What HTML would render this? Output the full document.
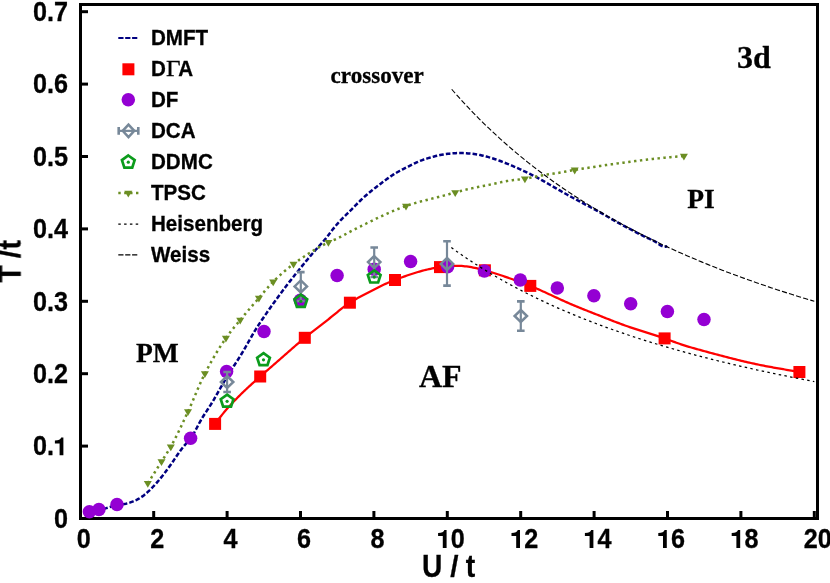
<!DOCTYPE html>
<html><head><meta charset="utf-8"><title>Phase diagram</title>
<style>html,body{margin:0;padding:0;background:#fff;}svg{display:block;}</style>
</head><body>
<svg width="830" height="583" viewBox="0 0 830 583">
<rect width="830" height="583" fill="#fff"/>
<g stroke="#000" stroke-width="3" fill="none" stroke-linecap="butt">
<rect x="80.5" y="4.5" width="737" height="514"/>
</g>
<g stroke="#000" stroke-width="3" fill="none">
<line x1="82" y1="446.1" x2="88" y2="446.1"/>
<line x1="82" y1="373.7" x2="88" y2="373.7"/>
<line x1="82" y1="301.3" x2="88" y2="301.3"/>
<line x1="82" y1="228.9" x2="88" y2="228.9"/>
<line x1="82" y1="156.5" x2="88" y2="156.5"/>
<line x1="82" y1="84.1" x2="88" y2="84.1"/>
<line x1="82" y1="11.7" x2="88" y2="11.7"/>
<line x1="153.7" y1="517" x2="153.7" y2="511"/>
<line x1="227.1" y1="517" x2="227.1" y2="511"/>
<line x1="300.5" y1="517" x2="300.5" y2="511"/>
<line x1="373.9" y1="517" x2="373.9" y2="511"/>
<line x1="447.3" y1="517" x2="447.3" y2="511"/>
<line x1="520.7" y1="517" x2="520.7" y2="511"/>
<line x1="594.1" y1="517" x2="594.1" y2="511"/>
<line x1="667.5" y1="517" x2="667.5" y2="511"/>
<line x1="740.9" y1="517" x2="740.9" y2="511"/>
<line x1="814.3" y1="517" x2="814.3" y2="511"/>
</g>
<path d="M84,514.6 L85.49,514.16 L86.97,513.73 L88.46,513.3 L89.95,512.87 L91.44,512.45 L92.93,512.02 L94.42,511.6 L95.91,511.18 L97.4,510.76 L98.89,510.33 L100.37,509.91 L101.86,509.48 L103.35,509.05 L104.83,508.61 L106.31,508.16 L107.79,507.7 L109.27,507.23 L110.75,506.75 L112.23,506.27 L113.71,505.82 L115.2,505.4 L116.71,505.06 L118.23,504.8 L119.77,504.6 L121.31,504.44 L122.85,504.26 L124.38,504.04 L125.9,503.74 L127.4,503.36 L128.89,502.91 L130.36,502.42 L131.82,501.88 L133.27,501.31 L134.7,500.72 L136.12,500.08 L137.51,499.39 L138.87,498.66 L140.2,497.88 L141.5,497.03 L142.76,496.14 L144,495.2 L145.2,494.23 L146.38,493.22 L147.54,492.18 L148.68,491.12 L149.81,490.05 L150.91,488.96 L152,487.86 L153.07,486.74 L154.13,485.61 L155.18,484.47 L156.21,483.32 L157.24,482.16 L158.25,480.99 L159.24,479.8 L160.23,478.61 L161.21,477.41 L162.18,476.2 L163.14,474.98 L164.09,473.76 L165.03,472.53 L165.96,471.29 L166.88,470.04 L167.8,468.8 L168.71,467.54 L169.61,466.28 L170.5,465.02 L171.39,463.75 L172.27,462.48 L173.15,461.2 L174.02,459.92 L174.89,458.63 L175.75,457.35 L176.62,456.06 L177.48,454.78 L178.36,453.5 L179.25,452.23 L180.16,450.97 L181.08,449.73 L182.02,448.5 L182.99,447.29 L183.98,446.1 L184.99,444.92 L186.01,443.75 L187.03,442.58 L188.04,441.41 L189.03,440.22 L189.99,439.01 L190.91,437.77 L191.79,436.51 L192.64,435.22 L193.45,433.91 L194.23,432.57 L194.99,431.22 L195.74,429.86 L196.47,428.49 L197.19,427.12 L197.91,425.74 L198.63,424.36 L199.36,422.99 L200.11,421.62 L200.86,420.27 L201.64,418.92 L202.44,417.59 L203.25,416.27 L204.08,414.97 L204.92,413.66 L205.76,412.36 L206.61,411.07 L207.47,409.78 L208.32,408.48 L209.16,407.19 L210,405.89 L210.83,404.58 L211.65,403.27 L212.46,401.95 L213.25,400.62 L214.04,399.28 L214.81,397.94 L215.58,396.6 L216.34,395.25 L217.1,393.9 L217.86,392.55 L218.62,391.2 L219.38,389.85 L220.14,388.5 L220.91,387.15 L221.68,385.81 L222.46,384.47 L223.24,383.13 L224.03,381.8 L224.82,380.47 L225.61,379.14 L226.41,377.81 L227.22,376.49 L228.03,375.17 L228.85,373.85 L229.67,372.54 L230.5,371.23 L231.33,369.93 L232.17,368.62 L233.01,367.32 L233.85,366.02 L234.7,364.73 L235.54,363.43 L236.38,362.13 L237.22,360.83 L238.06,359.52 L238.89,358.22 L239.71,356.91 L240.53,355.59 L241.34,354.27 L242.14,352.94 L242.93,351.61 L243.71,350.28 L244.49,348.93 L245.26,347.59 L246.02,346.25 L246.79,344.9 L247.55,343.55 L248.31,342.2 L249.07,340.85 L249.83,339.5 L250.6,338.15 L251.37,336.81 L252.14,335.47 L252.92,334.13 L253.7,332.79 L254.5,331.46 L255.3,330.14 L256.11,328.82 L256.93,327.51 L257.76,326.2 L258.6,324.9 L259.45,323.6 L260.3,322.31 L261.16,321.02 L262.02,319.74 L262.89,318.45 L263.77,317.17 L264.64,315.9 L265.52,314.62 L266.41,313.35 L267.29,312.08 L268.18,310.81 L269.07,309.54 L269.96,308.27 L270.85,307.01 L271.75,305.74 L272.64,304.48 L273.54,303.22 L274.44,301.96 L275.34,300.7 L276.25,299.44 L277.16,298.19 L278.07,296.94 L278.98,295.69 L279.9,294.44 L280.82,293.2 L281.75,291.95 L282.68,290.72 L283.61,289.48 L284.55,288.24 L285.48,287.01 L286.43,285.78 L287.37,284.56 L288.32,283.33 L289.27,282.11 L290.22,280.89 L291.17,279.67 L292.13,278.45 L293.09,277.23 L294.05,276.02 L295.01,274.8 L295.98,273.59 L296.95,272.38 L297.91,271.17 L298.89,269.97 L299.86,268.76 L300.83,267.56 L301.81,266.36 L302.79,265.16 L303.77,263.96 L304.75,262.76 L305.74,261.57 L306.73,260.38 L307.72,259.18 L308.71,258 L309.7,256.81 L310.7,255.63 L311.71,254.45 L312.72,253.27 L313.73,252.1 L314.75,250.93 L315.77,249.77 L316.8,248.61 L317.84,247.46 L318.88,246.31 L319.92,245.17 L320.96,244.02 L322,242.87 L323.03,241.72 L324.05,240.55 L325.06,239.37 L326.04,238.18 L327.01,236.97 L327.96,235.75 L328.9,234.52 L329.84,233.29 L330.77,232.05 L331.71,230.82 L332.65,229.59 L333.61,228.37 L334.58,227.16 L335.57,225.97 L336.57,224.79 L337.6,223.63 L338.63,222.48 L339.68,221.34 L340.75,220.21 L341.82,219.1 L342.91,217.99 L344,216.89 L345.1,215.8 L346.21,214.72 L347.31,213.63 L348.42,212.55 L349.52,211.46 L350.62,210.38 L351.72,209.28 L352.81,208.18 L353.89,207.07 L354.97,205.96 L356.05,204.85 L357.14,203.75 L358.23,202.65 L359.33,201.56 L360.44,200.48 L361.56,199.41 L362.7,198.36 L363.84,197.32 L365,196.29 L366.17,195.27 L367.34,194.26 L368.53,193.26 L369.72,192.27 L370.92,191.29 L372.12,190.31 L373.33,189.34 L374.54,188.38 L375.76,187.42 L376.98,186.47 L378.2,185.52 L379.43,184.58 L380.66,183.64 L381.89,182.7 L383.13,181.77 L384.37,180.85 L385.62,179.93 L386.88,179.02 L388.14,178.12 L389.4,177.23 L390.68,176.35 L391.97,175.49 L393.27,174.65 L394.58,173.83 L395.91,173.03 L397.25,172.25 L398.6,171.49 L399.96,170.75 L401.33,170.02 L402.7,169.3 L404.08,168.6 L405.46,167.9 L406.84,167.2 L408.23,166.52 L409.62,165.83 L411.01,165.14 L412.4,164.46 L413.79,163.77 L415.18,163.1 L416.58,162.44 L417.99,161.8 L419.41,161.18 L420.85,160.6 L422.3,160.06 L423.76,159.54 L425.23,159.05 L426.7,158.58 L428.19,158.12 L429.67,157.68 L431.16,157.26 L432.66,156.85 L434.16,156.45 L435.66,156.08 L437.16,155.72 L438.67,155.38 L440.19,155.06 L441.71,154.77 L443.24,154.5 L444.77,154.25 L446.3,154.03 L447.84,153.82 L449.38,153.65 L450.92,153.49 L452.47,153.36 L454.02,153.26 L455.57,153.17 L457.12,153.12 L458.67,153.08 L460.22,153.07 L461.77,153.08 L463.33,153.12 L464.88,153.18 L466.43,153.27 L467.98,153.38 L469.52,153.51 L471.07,153.66 L472.61,153.84 L474.15,154.05 L475.68,154.27 L477.21,154.52 L478.74,154.8 L480.26,155.09 L481.78,155.41 L483.29,155.75 L484.79,156.12 L486.29,156.5 L487.78,156.91 L489.27,157.33 L490.76,157.77 L492.24,158.23 L493.72,158.7 L495.19,159.19 L496.66,159.69 L498.12,160.21 L499.58,160.74 L501.03,161.28 L502.49,161.84 L503.94,162.4 L505.38,162.97 L506.82,163.55 L508.26,164.14 L509.69,164.73 L511.13,165.33 L512.56,165.93 L513.98,166.55 L515.4,167.17 L516.82,167.79 L518.24,168.42 L519.65,169.06 L521.06,169.7 L522.47,170.35 L523.87,171.01 L525.27,171.67 L526.67,172.34 L528.06,173.02 L529.45,173.7 L530.83,174.39 L532.21,175.09 L533.59,175.79 L534.97,176.5 L536.34,177.22 L537.7,177.95 L539.07,178.68 L540.43,179.42 L541.78,180.17 L543.14,180.92 L544.49,181.67 L545.84,182.43 L547.18,183.2 L548.53,183.97 L549.87,184.74 L551.21,185.51 L552.56,186.28 L553.9,187.06 L555.24,187.83 L556.58,188.61 L557.92,189.39 L559.26,190.16 L560.6,190.93 L561.95,191.71 L563.29,192.47 L564.64,193.24 L565.99,194 L567.34,194.76 L568.69,195.51 L570.05,196.26 L571.41,197 L572.77,197.74 L574.13,198.48 L575.49,199.22 L576.86,199.95 L578.22,200.68 L579.59,201.41 L580.95,202.14 L582.32,202.87 L583.69,203.6 L585.06,204.32 L586.42,205.05 L587.79,205.78 L589.16,206.51 L590.52,207.24 L591.89,207.97 L593.25,208.71 L594.61,209.44 L595.97,210.18 L597.33,210.93 L598.69,211.67 L600.04,212.42 L601.39,213.18 L602.74,213.94 L604.09,214.7 L605.44,215.46 L606.78,216.23 L608.13,216.99 L609.47,217.76 L610.82,218.53 L612.16,219.3 L613.51,220.06 L614.86,220.83 L616.21,221.59 L617.56,222.35 L618.91,223.1 L620.26,223.85 L621.62,224.6 L622.98,225.34 L624.35,226.08 L625.71,226.81 L627.08,227.54 L628.45,228.26 L629.82,228.98 L631.19,229.69 L632.56,230.4 L633.93,231.12 L635.31,231.83 L636.68,232.55 L638.06,233.27 L639.44,234 L640.82,234.72 L642.2,235.44 L643.58,236.15 L644.97,236.84 L646.35,237.5 L647.74,238.12 L649.13,238.72 L650.52,239.31 L651.91,239.92 L653.3,240.58 L654.7,241.32 L656.09,242.15 L657.49,243.11 L658.88,244.13 L660.28,245.11 L661.68,245.96 L663.08,246.57 L664.49,246.85 L665.89,246.69 L667.3,246" fill="none" stroke="#000080" stroke-width="2.5" stroke-dasharray="4.6 2.1"/>
<path d="M215.1,423.9 L216.08,422.54 L217.07,421.2 L218.07,419.87 L219.08,418.55 L220.1,417.23 L221.13,415.93 L222.17,414.64 L223.22,413.36 L224.28,412.09 L225.35,410.83 L226.42,409.58 L227.51,408.34 L228.6,407.11 L229.7,405.89 L230.81,404.67 L231.93,403.46 L233.05,402.26 L234.19,401.07 L235.32,399.89 L236.47,398.71 L237.62,397.54 L238.78,396.37 L239.94,395.22 L241.11,394.07 L242.29,392.92 L243.47,391.78 L244.66,390.65 L245.85,389.52 L247.04,388.39 L248.24,387.28 L249.45,386.16 L250.66,385.05 L251.87,383.94 L253.08,382.84 L254.3,381.74 L255.53,380.65 L256.75,379.55 L257.98,378.46 L259.21,377.37 L260.44,376.29 L261.68,375.2 L262.91,374.12 L264.15,373.04 L265.39,371.96 L266.63,370.88 L267.87,369.81 L269.11,368.73 L270.35,367.65 L271.6,366.58 L272.84,365.5 L274.08,364.42 L275.32,363.34 L276.56,362.27 L277.8,361.19 L279.04,360.1 L280.28,359.02 L281.51,357.93 L282.75,356.85 L283.98,355.76 L285.21,354.67 L286.45,353.58 L287.68,352.49 L288.91,351.41 L290.15,350.32 L291.38,349.23 L292.62,348.15 L293.86,347.07 L295.1,345.99 L296.34,344.92 L297.59,343.84 L298.84,342.78 L300.09,341.71 L301.35,340.66 L302.61,339.61 L303.87,338.56 L305.14,337.52 L306.42,336.49 L307.7,335.46 L308.99,334.44 L310.27,333.42 L311.57,332.4 L312.86,331.39 L314.16,330.38 L315.46,329.38 L316.75,328.37 L318.06,327.37 L319.36,326.36 L320.66,325.36 L321.96,324.35 L323.26,323.34 L324.55,322.33 L325.85,321.32 L327.14,320.3 L328.43,319.28 L329.72,318.25 L331,317.21 L332.28,316.18 L333.56,315.13 L334.83,314.09 L336.11,313.05 L337.39,312.01 L338.67,310.98 L339.96,309.95 L341.25,308.93 L342.55,307.93 L343.86,306.94 L345.18,305.96 L346.51,305 L347.86,304.06 L349.22,303.15 L350.59,302.26 L351.98,301.39 L353.39,300.54 L354.8,299.71 L356.23,298.9 L357.67,298.11 L359.12,297.32 L360.57,296.55 L362.03,295.79 L363.49,295.03 L364.96,294.27 L366.42,293.52 L367.89,292.76 L369.35,292 L370.81,291.24 L372.27,290.48 L373.73,289.71 L375.19,288.96 L376.65,288.2 L378.11,287.46 L379.58,286.72 L381.06,285.99 L382.53,285.28 L384.02,284.58 L385.51,283.89 L387.01,283.23 L388.52,282.58 L390.04,281.95 L391.56,281.34 L393.09,280.74 L394.63,280.14 L396.16,279.55 L397.7,278.97 L399.24,278.38 L400.78,277.81 L402.32,277.23 L403.87,276.67 L405.42,276.11 L406.97,275.56 L408.52,275.02 L410.07,274.49 L411.63,273.97 L413.2,273.46 L414.76,272.96 L416.33,272.47 L417.91,272 L419.48,271.55 L421.07,271.1 L422.65,270.68 L424.25,270.27 L425.84,269.87 L427.44,269.49 L429.04,269.13 L430.65,268.78 L432.26,268.45 L433.88,268.14 L435.5,267.84 L437.12,267.56 L438.74,267.29 L440.37,267.04 L442,266.81 L443.64,266.6 L445.28,266.41 L446.91,266.24 L448.55,266.09 L450.2,265.97 L451.84,265.88 L453.48,265.82 L455.12,265.79 L456.77,265.79 L458.41,265.82 L460.05,265.89 L461.69,265.99 L463.32,266.13 L464.96,266.29 L466.59,266.48 L468.23,266.7 L469.85,266.95 L471.48,267.22 L473.1,267.52 L474.72,267.84 L476.34,268.18 L477.95,268.54 L479.56,268.92 L481.16,269.31 L482.76,269.73 L484.36,270.15 L485.95,270.59 L487.53,271.04 L489.11,271.5 L490.69,271.98 L492.26,272.46 L493.83,272.95 L495.39,273.45 L496.96,273.96 L498.52,274.47 L500.07,274.99 L501.63,275.52 L503.19,276.05 L504.74,276.58 L506.29,277.11 L507.85,277.65 L509.4,278.19 L510.95,278.73 L512.5,279.27 L514.06,279.82 L515.61,280.36 L517.15,280.92 L518.7,281.47 L520.25,282.04 L521.79,282.61 L523.33,283.18 L524.87,283.76 L526.4,284.35 L527.93,284.95 L529.46,285.56 L530.98,286.18 L532.5,286.8 L534.01,287.44 L535.53,288.08 L537.03,288.74 L538.54,289.39 L540.04,290.06 L541.54,290.73 L543.04,291.41 L544.54,292.09 L546.03,292.77 L547.53,293.46 L549.02,294.15 L550.51,294.84 L552,295.53 L553.49,296.23 L554.98,296.92 L556.48,297.61 L557.97,298.3 L559.46,298.99 L560.95,299.68 L562.45,300.36 L563.95,301.04 L565.44,301.72 L566.95,302.39 L568.45,303.05 L569.96,303.71 L571.47,304.36 L572.98,305 L574.49,305.64 L576.01,306.27 L577.53,306.89 L579.05,307.51 L580.58,308.13 L582.1,308.74 L583.63,309.35 L585.16,309.96 L586.68,310.56 L588.21,311.17 L589.74,311.77 L591.27,312.37 L592.8,312.97 L594.33,313.58 L595.86,314.18 L597.39,314.79 L598.92,315.4 L600.45,316 L601.97,316.61 L603.5,317.22 L605.03,317.83 L606.56,318.43 L608.09,319.04 L609.62,319.64 L611.15,320.24 L612.68,320.84 L614.21,321.43 L615.75,322.02 L617.28,322.61 L618.82,323.18 L620.36,323.76 L621.9,324.33 L623.45,324.89 L624.99,325.44 L626.54,325.99 L628.09,326.53 L629.65,327.06 L631.21,327.59 L632.77,328.11 L634.33,328.62 L635.89,329.13 L637.46,329.63 L639.02,330.13 L640.59,330.62 L642.16,331.12 L643.73,331.61 L645.3,332.1 L646.86,332.59 L648.43,333.08 L650,333.58 L651.57,334.07 L653.14,334.57 L654.7,335.07 L656.26,335.58 L657.83,336.09 L659.39,336.61 L660.94,337.13 L662.5,337.67 L664.05,338.21 L665.6,338.76 L667.15,339.31 L668.69,339.88 L670.24,340.44 L671.78,341.01 L673.32,341.58 L674.87,342.14 L676.41,342.7 L677.96,343.25 L679.51,343.79 L681.07,344.32 L682.63,344.84 L684.19,345.35 L685.76,345.85 L687.33,346.33 L688.9,346.81 L690.48,347.28 L692.05,347.74 L693.63,348.19 L695.22,348.64 L696.8,349.09 L698.38,349.53 L699.97,349.96 L701.55,350.4 L703.14,350.83 L704.73,351.26 L706.31,351.69 L707.9,352.12 L709.49,352.55 L711.07,352.98 L712.66,353.4 L714.25,353.83 L715.84,354.25 L717.43,354.67 L719.02,355.09 L720.6,355.51 L722.19,355.93 L723.78,356.35 L725.37,356.76 L726.96,357.18 L728.56,357.59 L730.15,358 L731.74,358.41 L733.33,358.81 L734.93,359.21 L736.52,359.61 L738.12,360.01 L739.71,360.4 L741.31,360.79 L742.91,361.17 L744.51,361.55 L746.11,361.92 L747.71,362.29 L749.31,362.66 L750.92,363.02 L752.52,363.37 L754.13,363.72 L755.74,364.07 L757.35,364.41 L758.95,364.74 L760.56,365.07 L762.18,365.4 L763.79,365.71 L765.4,366.03 L767.02,366.33 L768.63,366.64 L770.25,366.94 L771.87,367.23 L773.48,367.52 L775.1,367.81 L776.72,368.1 L778.34,368.38 L779.96,368.66 L781.58,368.94 L783.2,369.22 L784.82,369.49 L786.44,369.77 L788.06,370.05 L789.68,370.32 L791.3,370.6 L792.92,370.88 L794.54,371.15 L796.16,371.43 L797.78,371.72 L799.4,372" fill="none" stroke="#ff0000" stroke-width="2.25"/>
<rect x="209.1" y="417.9" width="12" height="12" fill="#ff0000"/>
<rect x="254.2" y="370.5" width="12" height="12" fill="#ff0000"/>
<rect x="298.8" y="331.8" width="12" height="12" fill="#ff0000"/>
<rect x="343.9" y="296.7" width="12" height="12" fill="#ff0000"/>
<rect x="389" y="274" width="12" height="12" fill="#ff0000"/>
<rect x="434" y="261.1" width="12" height="12" fill="#ff0000"/>
<rect x="478.9" y="264.3" width="12" height="12" fill="#ff0000"/>
<rect x="524.3" y="279.9" width="12" height="12" fill="#ff0000"/>
<rect x="658.6" y="332.4" width="12" height="12" fill="#ff0000"/>
<rect x="793.4" y="366" width="12" height="12" fill="#ff0000"/>
<circle cx="89.4" cy="511.7" r="6.75" fill="#9400d3"/>
<circle cx="98.9" cy="509.6" r="6.75" fill="#9400d3"/>
<circle cx="117" cy="504.5" r="6.75" fill="#9400d3"/>
<circle cx="190.6" cy="438.3" r="6.75" fill="#9400d3"/>
<circle cx="226.6" cy="371.6" r="6.75" fill="#9400d3"/>
<circle cx="264" cy="331.5" r="6.75" fill="#9400d3"/>
<circle cx="300.3" cy="300.2" r="6.75" fill="#9400d3"/>
<circle cx="337.1" cy="275.6" r="6.75" fill="#9400d3"/>
<circle cx="374.2" cy="269.3" r="6.75" fill="#9400d3"/>
<circle cx="410.6" cy="261.6" r="6.75" fill="#9400d3"/>
<circle cx="447.6" cy="266.8" r="6.75" fill="#9400d3"/>
<circle cx="484.4" cy="271" r="6.75" fill="#9400d3"/>
<circle cx="520.3" cy="280.1" r="6.75" fill="#9400d3"/>
<circle cx="557.3" cy="288.1" r="6.75" fill="#9400d3"/>
<circle cx="593.9" cy="295.8" r="6.75" fill="#9400d3"/>
<circle cx="630.7" cy="303.8" r="6.75" fill="#9400d3"/>
<circle cx="667.4" cy="311.4" r="6.75" fill="#9400d3"/>
<circle cx="704" cy="319.4" r="6.75" fill="#9400d3"/>
<g stroke="#778899" fill="none">
<path stroke-width="2.2" d="M227.1,372 V392"/>
<path stroke-width="2.6" d="M223.3,372 H230.9 M223.3,392 H230.9"/>
<path stroke-width="2.5" d="M227.1,376 L233.3,382 L227.1,388 L220.9,382 Z"/>
<path stroke-width="2.2" d="M300.8,272.1 V301"/>
<path stroke-width="2.6" d="M297,272.1 H304.6 M297,301 H304.6"/>
<path stroke-width="2.5" d="M300.8,280.4 L307,286.4 L300.8,292.4 L294.6,286.4 Z"/>
<path stroke-width="2.2" d="M374.2,247.5 V277"/>
<path stroke-width="2.6" d="M370.4,247.5 H378 M370.4,277 H378"/>
<path stroke-width="2.5" d="M374.2,256.1 L380.4,262.1 L374.2,268.1 L368,262.1 Z"/>
<path stroke-width="2.2" d="M447,241.3 V285.6"/>
<path stroke-width="2.6" d="M443.2,241.3 H450.8 M443.2,285.6 H450.8"/>
<path stroke-width="2.5" d="M447,257.9 L453.2,263.9 L447,269.9 L440.8,263.9 Z"/>
<path stroke-width="2.2" d="M520.8,301.4 V330.8"/>
<path stroke-width="2.6" d="M517,301.4 H524.6 M517,330.8 H524.6"/>
<path stroke-width="2.5" d="M520.8,310 L527,316 L520.8,322 L514.6,316 Z"/>
</g>
<path d="M227.1,394.6 L233.47,399.23 L231.04,406.72 L223.16,406.72 L220.73,399.23 Z" fill="none" stroke="#0c9c1c" stroke-width="2.7"/>
<circle cx="227.1" cy="401.3" r="1.6" fill="#0c9c1c"/>
<path d="M263.5,353.1 L269.87,357.73 L267.44,365.22 L259.56,365.22 L257.13,357.73 Z" fill="none" stroke="#0c9c1c" stroke-width="2.7"/>
<circle cx="263.5" cy="359.8" r="1.6" fill="#0c9c1c"/>
<path d="M300.8,294.7 L307.17,299.33 L304.74,306.82 L296.86,306.82 L294.43,299.33 Z" fill="none" stroke="#0c9c1c" stroke-width="2.7"/>
<circle cx="300.8" cy="301.4" r="1.6" fill="#0c9c1c"/>
<path d="M374.2,270.4 L380.57,275.03 L378.14,282.52 L370.26,282.52 L367.83,275.03 Z" fill="none" stroke="#0c9c1c" stroke-width="2.7"/>
<circle cx="374.2" cy="277.1" r="1.6" fill="#0c9c1c"/>
<path d="M147.8,483.3 L148.53,482.16 L149.25,481.02 L149.98,479.87 L150.7,478.73 L151.42,477.59 L152.15,476.44 L152.87,475.3 L153.6,474.15 L154.32,473.01 L155.04,471.87 L155.76,470.72 L156.48,469.58 L157.21,468.43 L157.93,467.29 L158.65,466.14 L159.37,464.99 L160.09,463.85 L160.81,462.7 L161.53,461.56 L162.25,460.41 L162.98,459.27 L163.71,458.13 L164.45,456.99 L165.19,455.85 L165.92,454.71 L166.65,453.57 L167.37,452.43 L168.09,451.28 L168.8,450.13 L169.49,448.97 L170.17,447.8 L170.84,446.63 L171.49,445.45 L172.14,444.27 L172.78,443.08 L173.42,441.89 L174.05,440.69 L174.67,439.49 L175.29,438.29 L175.9,437.08 L176.51,435.88 L177.11,434.66 L177.71,433.45 L178.31,432.23 L178.9,431.01 L179.49,429.79 L180.07,428.57 L180.66,427.35 L181.24,426.12 L181.81,424.89 L182.39,423.67 L182.96,422.44 L183.54,421.21 L184.11,419.98 L184.68,418.75 L185.25,417.52 L185.82,416.29 L186.39,415.06 L186.96,413.84 L187.53,412.61 L188.1,411.38 L188.67,410.15 L189.23,408.92 L189.79,407.69 L190.34,406.45 L190.88,405.21 L191.42,403.97 L191.96,402.72 L192.5,401.48 L193.03,400.23 L193.56,398.98 L194.09,397.73 L194.62,396.48 L195.14,395.23 L195.67,393.98 L196.2,392.73 L196.73,391.49 L197.26,390.24 L197.79,388.99 L198.33,387.75 L198.87,386.51 L199.41,385.27 L199.96,384.03 L200.51,382.8 L201.07,381.56 L201.63,380.34 L202.2,379.11 L202.78,377.89 L203.37,376.68 L203.96,375.47 L204.56,374.26 L205.17,373.06 L205.79,371.86 L206.41,370.67 L207.04,369.47 L207.67,368.27 L208.31,367.08 L208.95,365.89 L209.6,364.7 L210.25,363.51 L210.91,362.32 L211.57,361.14 L212.24,359.95 L212.92,358.77 L213.59,357.6 L214.28,356.42 L214.97,355.25 L215.66,354.08 L216.36,352.92 L217.06,351.75 L217.77,350.59 L218.48,349.44 L219.2,348.29 L219.92,347.14 L220.65,346 L221.38,344.86 L222.12,343.73 L222.86,342.6 L223.61,341.47 L224.36,340.36 L225.12,339.24 L225.88,338.13 L226.65,337.03 L227.43,335.94 L228.23,334.85 L229.04,333.77 L229.86,332.7 L230.7,331.63 L231.54,330.56 L232.38,329.51 L233.24,328.45 L234.09,327.4 L234.96,326.35 L235.82,325.3 L236.69,324.26 L237.55,323.21 L238.42,322.17 L239.28,321.12 L240.14,320.08 L240.99,319.03 L241.86,317.99 L242.72,316.95 L243.58,315.91 L244.45,314.87 L245.32,313.83 L246.2,312.8 L247.07,311.76 L247.95,310.73 L248.82,309.7 L249.7,308.67 L250.58,307.64 L251.46,306.62 L252.35,305.59 L253.23,304.56 L254.11,303.54 L255,302.51 L255.88,301.49 L256.77,300.47 L257.65,299.44 L258.54,298.42 L259.42,297.39 L260.3,296.36 L261.18,295.33 L262.05,294.29 L262.93,293.25 L263.8,292.21 L264.67,291.17 L265.55,290.13 L266.43,289.1 L267.31,288.08 L268.21,287.06 L269.1,286.04 L270.01,285.04 L270.93,284.05 L271.85,283.07 L272.79,282.11 L273.74,281.16 L274.7,280.21 L275.67,279.27 L276.65,278.34 L277.63,277.41 L278.63,276.48 L279.63,275.56 L280.63,274.65 L281.65,273.74 L282.67,272.84 L283.7,271.95 L284.73,271.07 L285.77,270.19 L286.82,269.33 L287.87,268.47 L288.92,267.62 L289.99,266.78 L291.05,265.95 L292.12,265.13 L293.2,264.33 L294.27,263.53 L295.36,262.73 L296.45,261.94 L297.54,261.15 L298.64,260.36 L299.75,259.58 L300.86,258.8 L301.97,258.03 L303.09,257.26 L304.21,256.49 L305.34,255.74 L306.48,254.98 L307.62,254.23 L308.76,253.49 L309.9,252.76 L311.06,252.03 L312.21,251.31 L313.37,250.59 L314.53,249.89 L315.7,249.19 L316.87,248.5 L318.05,247.82 L319.23,247.14 L320.41,246.48 L321.59,245.83 L322.78,245.18 L323.98,244.55 L325.17,243.92 L326.37,243.31 L327.57,242.71 L328.78,242.12 L330.01,241.56 L331.25,241.04 L332.51,240.53 L333.77,240.03 L335.03,239.52 L336.27,238.98 L337.5,238.42 L338.71,237.83 L339.92,237.22 L341.12,236.6 L342.32,235.96 L343.51,235.32 L344.7,234.67 L345.89,234.02 L347.08,233.37 L348.27,232.72 L349.46,232.07 L350.65,231.44 L351.86,230.82 L353.06,230.2 L354.26,229.58 L355.47,228.97 L356.67,228.35 L357.88,227.74 L359.09,227.13 L360.3,226.52 L361.51,225.91 L362.72,225.31 L363.93,224.7 L365.14,224.1 L366.36,223.5 L367.57,222.91 L368.78,222.31 L370,221.71 L371.22,221.12 L372.43,220.52 L373.65,219.92 L374.86,219.33 L376.08,218.73 L377.3,218.14 L378.52,217.56 L379.74,216.98 L380.97,216.4 L382.19,215.83 L383.42,215.26 L384.65,214.71 L385.89,214.16 L387.13,213.62 L388.37,213.07 L389.61,212.53 L390.85,211.99 L392.1,211.46 L393.35,210.93 L394.59,210.4 L395.85,209.88 L397.1,209.37 L398.36,208.86 L399.62,208.36 L400.88,207.87 L402.14,207.39 L403.41,206.92 L404.68,206.46 L405.95,206.02 L407.23,205.58 L408.51,205.15 L409.8,204.74 L411.09,204.33 L412.39,203.94 L413.69,203.54 L414.98,203.16 L416.29,202.78 L417.59,202.41 L418.89,202.04 L420.19,201.67 L421.5,201.31 L422.8,200.96 L424.11,200.62 L425.42,200.28 L426.73,199.94 L428.04,199.61 L429.36,199.28 L430.67,198.95 L431.99,198.63 L433.3,198.3 L434.61,197.98 L435.93,197.65 L437.24,197.31 L438.55,196.98 L439.86,196.64 L441.17,196.29 L442.48,195.94 L443.78,195.59 L445.09,195.24 L446.4,194.89 L447.7,194.53 L449.01,194.18 L450.31,193.82 L451.62,193.47 L452.93,193.11 L454.23,192.76 L455.54,192.41 L456.85,192.05 L458.15,191.69 L459.46,191.33 L460.76,190.98 L462.07,190.62 L463.38,190.28 L464.69,189.95 L466,189.63 L467.32,189.32 L468.64,189.02 L469.96,188.72 L471.28,188.43 L472.6,188.14 L473.92,187.86 L475.25,187.59 L476.57,187.31 L477.9,187.04 L479.23,186.77 L480.55,186.5 L481.88,186.24 L483.21,185.97 L484.54,185.71 L485.87,185.44 L487.19,185.18 L488.52,184.91 L489.85,184.64 L491.17,184.37 L492.5,184.09 L493.82,183.81 L495.15,183.52 L496.47,183.23 L497.79,182.94 L499.12,182.65 L500.44,182.36 L501.76,182.08 L503.09,181.81 L504.42,181.54 L505.75,181.29 L507.08,181.05 L508.41,180.83 L509.74,180.63 L511.08,180.44 L512.42,180.26 L513.77,180.09 L515.11,179.93 L516.46,179.78 L517.8,179.62 L519.15,179.46 L520.49,179.3 L521.84,179.13 L523.18,178.95 L524.52,178.76 L525.85,178.55 L527.18,178.32 L528.51,178.08 L529.84,177.82 L531.17,177.55 L532.5,177.28 L533.82,177 L535.15,176.72 L536.47,176.44 L537.8,176.17 L539.13,175.9 L540.45,175.64 L541.79,175.4 L543.12,175.16 L544.45,174.94 L545.79,174.73 L547.13,174.53 L548.47,174.33 L549.81,174.14 L551.15,173.94 L552.49,173.75 L553.83,173.56 L555.17,173.37 L556.5,173.17 L557.84,172.96 L559.18,172.75 L560.51,172.53 L561.85,172.3 L563.18,172.05 L564.51,171.8 L565.84,171.54 L567.17,171.28 L568.49,171.02 L569.82,170.76 L571.15,170.51 L572.49,170.27 L573.82,170.04 L575.15,169.83 L576.49,169.62 L577.82,169.41 L579.16,169.2 L580.49,168.99 L581.83,168.78 L583.17,168.57 L584.5,168.36 L585.84,168.15 L587.17,167.94 L588.51,167.74 L589.85,167.53 L591.18,167.33 L592.52,167.12 L593.86,166.92 L595.19,166.71 L596.53,166.51 L597.87,166.31 L599.21,166.11 L600.54,165.91 L601.88,165.71 L603.22,165.51 L604.56,165.31 L605.9,165.11 L607.23,164.92 L608.57,164.72 L609.91,164.53 L611.25,164.34 L612.59,164.14 L613.93,163.95 L615.27,163.76 L616.61,163.57 L617.95,163.38 L619.29,163.2 L620.63,163.01 L621.97,162.83 L623.31,162.64 L624.65,162.46 L625.99,162.28 L627.33,162.1 L628.68,161.92 L630.02,161.75 L631.36,161.57 L632.7,161.4 L634.05,161.22 L635.39,161.05 L636.73,160.88 L638.07,160.71 L639.42,160.54 L640.76,160.38 L642.1,160.21 L643.45,160.05 L644.79,159.89 L646.14,159.73 L647.48,159.57 L648.83,159.42 L650.17,159.26 L651.52,159.11 L652.87,158.96 L654.21,158.81 L655.56,158.66 L656.9,158.51 L658.25,158.37 L659.6,158.23 L660.95,158.09 L662.29,157.95 L663.64,157.81 L664.99,157.68 L666.34,157.54 L667.69,157.41 L669.04,157.28 L670.39,157.16 L671.74,157.03 L673.09,156.91 L674.44,156.79 L675.79,156.67 L677.14,156.55 L678.49,156.44 L679.84,156.32 L681.19,156.21 L682.55,156.11 L683.9,156" fill="none" stroke="#6b8e23" stroke-width="2.5" stroke-dasharray="2.4 3.5"/>
<path d="M143.8,481 L151.8,481 L147.8,487.8 Z" fill="#6b8e23"/>
<path d="M157.5,459.3 L165.5,459.3 L161.5,466.1 Z" fill="#6b8e23"/>
<path d="M166.8,444.4 L174.8,444.4 L170.8,451.2 Z" fill="#6b8e23"/>
<path d="M184,409.3 L192,409.3 L188,416.1 Z" fill="#6b8e23"/>
<path d="M200.9,371.3 L208.9,371.3 L204.9,378.1 Z" fill="#6b8e23"/>
<path d="M221.9,335.8 L229.9,335.8 L225.9,342.6 Z" fill="#6b8e23"/>
<path d="M236.2,317.7 L244.2,317.7 L240.2,324.5 Z" fill="#6b8e23"/>
<path d="M254.9,295.7 L262.9,295.7 L258.9,302.5 Z" fill="#6b8e23"/>
<path d="M269.2,279.4 L277.2,279.4 L273.2,286.2 Z" fill="#6b8e23"/>
<path d="M289.5,261.8 L297.5,261.8 L293.5,268.6 Z" fill="#6b8e23"/>
<path d="M324.4,240 L332.4,240 L328.4,246.8 Z" fill="#6b8e23"/>
<path d="M402,203.7 L410,203.7 L406,210.5 Z" fill="#6b8e23"/>
<path d="M451.2,190.2 L459.2,190.2 L455.2,197 Z" fill="#6b8e23"/>
<path d="M520.9,176.4 L528.9,176.4 L524.9,183.2 Z" fill="#6b8e23"/>
<path d="M570.7,167.6 L578.7,167.6 L574.7,174.4 Z" fill="#6b8e23"/>
<path d="M679.9,153.7 L687.9,153.7 L683.9,160.5 Z" fill="#6b8e23"/>
<path d="M451.34,247.52 L454.39,249.73 L457.44,251.9 L460.49,254.04 L463.54,256.15 L466.59,258.22 L469.64,260.26 L472.69,262.26 L475.74,264.24 L478.79,266.19 L481.84,268.1 L484.89,269.99 L487.94,271.85 L490.99,273.68 L494.04,275.49 L497.09,277.27 L500.14,279.02 L503.19,280.75 L506.24,282.45 L509.29,284.13 L512.34,285.78 L515.39,287.41 L518.44,289.02 L521.49,290.61 L524.54,292.17 L527.59,293.72 L530.64,295.24 L533.69,296.74 L536.74,298.22 L539.79,299.68 L542.84,301.13 L545.89,302.55 L548.94,303.96 L551.99,305.34 L555.04,306.71 L558.09,308.07 L561.14,309.4 L564.19,310.72 L567.24,312.02 L570.29,313.3 L573.34,314.57 L576.39,315.83 L579.44,317.07 L582.49,318.29 L585.54,319.5 L588.59,320.69 L591.64,321.87 L594.69,323.04 L597.74,324.19 L600.79,325.33 L603.84,326.45 L606.89,327.57 L609.94,328.67 L612.99,329.75 L616.04,330.83 L619.09,331.89 L622.14,332.94 L625.19,333.98 L628.24,335.01 L631.29,336.02 L634.34,337.03 L637.39,338.02 L640.44,339 L643.49,339.98 L646.54,340.94 L649.59,341.89 L652.64,342.83 L655.69,343.76 L658.74,344.68 L661.79,345.59 L664.84,346.5 L667.89,347.39 L670.94,348.27 L673.99,349.15 L677.05,350.01 L680.1,350.87 L683.15,351.72 L686.2,352.56 L689.25,353.39 L692.3,354.21 L695.35,355.03 L698.4,355.83 L701.45,356.63 L704.5,357.42 L707.55,358.21 L710.6,358.98 L713.65,359.75 L716.7,360.51 L719.75,361.26 L722.8,362.01 L725.85,362.75 L728.9,363.48 L731.95,364.21 L735,364.93 L738.05,365.64 L741.1,366.34 L744.15,367.04 L747.2,367.74 L750.25,368.42 L753.3,369.1 L756.35,369.78 L759.4,370.44 L762.45,371.11 L765.5,371.76 L768.55,372.41 L771.6,373.06 L774.65,373.7 L777.7,374.33 L780.75,374.96 L783.8,375.58 L786.85,376.2 L789.9,376.81 L792.95,377.42 L796,378.02 L799.05,378.61 L802.1,379.2 L805.15,379.79 L808.2,380.37 L811.25,380.95 L814.3,381.52" fill="none" stroke="#000" stroke-width="1.25" stroke-dasharray="2.5 3.3"/>
<path d="M451.7,89.25 L454.75,92.74 L457.8,96.18 L460.85,99.56 L463.89,102.89 L466.94,106.17 L469.99,109.39 L473.03,112.56 L476.08,115.69 L479.13,118.77 L482.17,121.8 L485.22,124.78 L488.27,127.72 L491.32,130.62 L494.36,133.47 L497.41,136.29 L500.46,139.06 L503.5,141.79 L506.55,144.48 L509.6,147.14 L512.64,149.76 L515.69,152.34 L518.74,154.88 L521.79,157.39 L524.83,159.87 L527.88,162.31 L530.93,164.72 L533.97,167.09 L537.02,169.44 L540.07,171.75 L543.11,174.03 L546.16,176.29 L549.21,178.51 L552.26,180.7 L555.3,182.87 L558.35,185.01 L561.4,187.12 L564.44,189.21 L567.49,191.27 L570.54,193.3 L573.59,195.31 L576.63,197.29 L579.68,199.25 L582.73,201.19 L585.77,203.1 L588.82,204.99 L591.87,206.86 L594.91,208.71 L597.96,210.53 L601.01,212.33 L604.06,214.11 L607.1,215.87 L610.15,217.61 L613.2,219.33 L616.24,221.03 L619.29,222.72 L622.34,224.38 L625.38,226.02 L628.43,227.65 L631.48,229.26 L634.53,230.85 L637.57,232.42 L640.62,233.98 L643.67,235.51 L646.71,237.04 L649.76,238.54 L652.81,240.03 L655.85,241.51 L658.9,242.97 L661.95,244.41 L665,245.84 L668.04,247.25 L671.09,248.65 L674.14,250.03 L677.18,251.4 L680.23,252.76 L683.28,254.1 L686.32,255.43 L689.37,256.75 L692.42,258.05 L695.47,259.34 L698.51,260.62 L701.56,261.88 L704.61,263.14 L707.65,264.38 L710.7,265.61 L713.75,266.82 L716.8,268.03 L719.84,269.22 L722.89,270.4 L725.94,271.57 L728.98,272.73 L732.03,273.88 L735.08,275.02 L738.12,276.15 L741.17,277.27 L744.22,278.37 L747.27,279.47 L750.31,280.56 L753.36,281.63 L756.41,282.7 L759.45,283.76 L762.5,284.81 L765.55,285.85 L768.59,286.88 L771.64,287.9 L774.69,288.91 L777.74,289.91 L780.78,290.91 L783.83,291.89 L786.88,292.87 L789.92,293.84 L792.97,294.8 L796.02,295.75 L799.06,296.7 L802.11,297.63 L805.16,298.56 L808.21,299.48 L811.25,300.39 L814.3,301.3" fill="none" stroke="#000" stroke-width="1.1" stroke-dasharray="5.2 2.2"/>
<path d="M118.3,38 H137.3" stroke="#000080" stroke-width="2.2" stroke-dasharray="5.2 1.7" fill="none"/>
<rect x="122.4" y="63.3" width="12" height="12" fill="#ff0000"/>
<circle cx="128.3" cy="99.7" r="6.75" fill="#9400d3"/>
<g stroke="#778899" fill="none">
<path stroke-width="2.2" d="M118.7,130.85 H138.3"/>
<path stroke-width="2.6" d="M118.7,127.1 V134.7 M138.3,127.1 V134.7"/>
<path stroke-width="2.5" d="M128.5,124.6 L134.3,130.85 L128.5,137.1 L122.7,130.85 Z"/>
</g>
<path d="M128.3,155.5 L134.67,160.13 L132.24,167.62 L124.36,167.62 L121.93,160.13 Z" fill="none" stroke="#0c9c1c" stroke-width="2.7"/>
<circle cx="128.3" cy="162.2" r="1.6" fill="#0c9c1c"/>
<path d="M118.3,193.1 H138.5" stroke="#6b8e23" stroke-width="2.5" stroke-dasharray="2.4 3.5" fill="none"/>
<path d="M124.3,190.8 L132.3,190.8 L128.3,197.6 Z" fill="#6b8e23"/>
<path d="M118.3,224 H138.5" stroke="#000" stroke-width="1.25" stroke-dasharray="2.5 3.3" fill="none"/>
<path d="M118.3,254.8 H137.3" stroke="#000" stroke-width="1.25" stroke-dasharray="5.2 1.7" fill="none"/>
<g fill="#000" stroke="#000" stroke-width="0.3" style="opacity:0.999">
<text transform="translate(151,45.4) scale(1,1.04)" font-family="'Liberation Sans', sans-serif" font-weight="bold" font-size="20.6" text-anchor="start">DMFT</text>
<text transform="translate(151,76.1) scale(1,1.04)" font-family="'Liberation Sans', sans-serif" font-weight="bold" font-size="20.6" text-anchor="start">D</text>
<text transform="translate(165.9,76.1) scale(1.05,1.0)" font-family="'Liberation Serif', serif" font-weight="normal" font-size="24" text-anchor="start">Γ</text>
<text transform="translate(178.3,76.1) scale(1,1.04)" font-family="'Liberation Sans', sans-serif" font-weight="bold" font-size="20.6" text-anchor="start">A</text>
<text transform="translate(151,106.9) scale(1,1.04)" font-family="'Liberation Sans', sans-serif" font-weight="bold" font-size="20.6" text-anchor="start">DF</text>
<text transform="translate(151,137.8) scale(1,1.04)" font-family="'Liberation Sans', sans-serif" font-weight="bold" font-size="20.6" text-anchor="start">DCA</text>
<text transform="translate(151,168.9) scale(1,1.04)" font-family="'Liberation Sans', sans-serif" font-weight="bold" font-size="20.6" text-anchor="start">DDMC</text>
<text transform="translate(151,200) scale(1,1.04)" font-family="'Liberation Sans', sans-serif" font-weight="bold" font-size="20.6" text-anchor="start">TPSC</text>
<text transform="translate(151,230.8) scale(1,1.04)" font-family="'Liberation Sans', sans-serif" font-weight="bold" font-size="20.6" text-anchor="start">Heisenberg</text>
<text transform="translate(151,261.6) scale(1,1.04)" font-family="'Liberation Sans', sans-serif" font-weight="bold" font-size="20.6" text-anchor="start">Weiss</text>
<text transform="translate(68,527.8) scale(1,1.11)" font-family="'Liberation Sans', sans-serif" font-weight="bold" font-size="25.2" text-anchor="end">0</text>
<text transform="translate(53.99,455.4) scale(1,1.11)" font-family="'Liberation Sans', sans-serif" font-weight="bold" font-size="25.2" text-anchor="end">0.</text>
<path d="M63.39,437.4 L61.19,437.4 Q60.39,440.3 54.89,440.4 L54.89,443.4 L59.59,443.4 L59.59,455.3 L63.39,455.3 Z" stroke="none"/>
<text transform="translate(68,383) scale(1,1.11)" font-family="'Liberation Sans', sans-serif" font-weight="bold" font-size="25.2" text-anchor="end">0.2</text>
<text transform="translate(68,310.6) scale(1,1.11)" font-family="'Liberation Sans', sans-serif" font-weight="bold" font-size="25.2" text-anchor="end">0.3</text>
<text transform="translate(68,238.2) scale(1,1.11)" font-family="'Liberation Sans', sans-serif" font-weight="bold" font-size="25.2" text-anchor="end">0.4</text>
<text transform="translate(68,165.8) scale(1,1.11)" font-family="'Liberation Sans', sans-serif" font-weight="bold" font-size="25.2" text-anchor="end">0.5</text>
<text transform="translate(68,93.4) scale(1,1.11)" font-family="'Liberation Sans', sans-serif" font-weight="bold" font-size="25.2" text-anchor="end">0.6</text>
<text transform="translate(68,21) scale(1,1.11)" font-family="'Liberation Sans', sans-serif" font-weight="bold" font-size="25.2" text-anchor="end">0.7</text>
<text transform="translate(83.8,548.2) scale(1,1.11)" font-family="'Liberation Sans', sans-serif" font-weight="bold" font-size="25.2" text-anchor="middle">0</text>
<text transform="translate(157.2,548.2) scale(1,1.11)" font-family="'Liberation Sans', sans-serif" font-weight="bold" font-size="25.2" text-anchor="middle">2</text>
<text transform="translate(230.6,548.2) scale(1,1.11)" font-family="'Liberation Sans', sans-serif" font-weight="bold" font-size="25.2" text-anchor="middle">4</text>
<text transform="translate(304,548.2) scale(1,1.11)" font-family="'Liberation Sans', sans-serif" font-weight="bold" font-size="25.2" text-anchor="middle">6</text>
<text transform="translate(377.4,548.2) scale(1,1.11)" font-family="'Liberation Sans', sans-serif" font-weight="bold" font-size="25.2" text-anchor="middle">8</text>
<text transform="translate(450.8,548.2) scale(1,1.11)" font-family="'Liberation Sans', sans-serif" font-weight="bold" font-size="25.2" text-anchor="start">0</text>
<path d="M446.59,530 L444.39,530 Q443.59,532.9 438.09,533 L438.09,536 L442.79,536 L442.79,547.9 L446.59,547.9 Z" stroke="none"/>
<text transform="translate(524.2,548.2) scale(1,1.11)" font-family="'Liberation Sans', sans-serif" font-weight="bold" font-size="25.2" text-anchor="start">2</text>
<path d="M519.99,530 L517.79,530 Q516.99,532.9 511.49,533 L511.49,536 L516.19,536 L516.19,547.9 L519.99,547.9 Z" stroke="none"/>
<text transform="translate(597.6,548.2) scale(1,1.11)" font-family="'Liberation Sans', sans-serif" font-weight="bold" font-size="25.2" text-anchor="start">4</text>
<path d="M593.39,530 L591.19,530 Q590.39,532.9 584.89,533 L584.89,536 L589.59,536 L589.59,547.9 L593.39,547.9 Z" stroke="none"/>
<text transform="translate(671,548.2) scale(1,1.11)" font-family="'Liberation Sans', sans-serif" font-weight="bold" font-size="25.2" text-anchor="start">6</text>
<path d="M666.79,530 L664.59,530 Q663.79,532.9 658.29,533 L658.29,536 L662.99,536 L662.99,547.9 L666.79,547.9 Z" stroke="none"/>
<text transform="translate(744.4,548.2) scale(1,1.11)" font-family="'Liberation Sans', sans-serif" font-weight="bold" font-size="25.2" text-anchor="start">8</text>
<path d="M740.19,530 L737.99,530 Q737.19,532.9 731.69,533 L731.69,536 L736.39,536 L736.39,547.9 L740.19,547.9 Z" stroke="none"/>
<text transform="translate(817.8,548.2) scale(1,1.11)" font-family="'Liberation Sans', sans-serif" font-weight="bold" font-size="25.2" text-anchor="middle">20</text>
<text transform="translate(422.1,576.8) scale(0.88,1)" font-family="'Liberation Sans', sans-serif" font-weight="bold" font-size="32" text-anchor="start">U</text>
<text transform="translate(450.3,576.5) scale(1,1)" font-family="'Liberation Sans', sans-serif" font-weight="bold" font-size="29.5" text-anchor="start">/</text>
<text transform="translate(465.8,576.8) scale(0.92,1)" font-family="'Liberation Sans', sans-serif" font-weight="bold" font-size="31" text-anchor="start">t</text>
<g transform="translate(20.6,262) rotate(-90)">
<text transform="translate(-20.5,0) scale(0.88,1)" font-family="'Liberation Sans', sans-serif" font-weight="bold" font-size="32" text-anchor="start">T</text>
<text transform="translate(3.8,0) scale(1,1)" font-family="'Liberation Sans', sans-serif" font-weight="bold" font-size="29.5" text-anchor="start">/</text>
<text transform="translate(12.5,0) scale(0.92,1)" font-family="'Liberation Sans', sans-serif" font-weight="bold" font-size="31" text-anchor="start">t</text>
</g>
<text transform="translate(737,68) scale(1,1)" font-family="'Liberation Serif', serif" font-weight="bold" font-size="32" text-anchor="start">3d</text>
<text transform="translate(687.3,208.3) scale(1,1)" font-family="'Liberation Serif', serif" font-weight="bold" font-size="27.5" text-anchor="start">PI</text>
<text transform="translate(136,361.9) scale(1,1)" font-family="'Liberation Serif', serif" font-weight="bold" font-size="27.5" text-anchor="start">PM</text>
<text transform="translate(419,387.3) scale(1,1)" font-family="'Liberation Serif', serif" font-weight="bold" font-size="32" text-anchor="start">AF</text>
<text transform="translate(330.6,83) scale(1,1)" font-family="'Liberation Serif', serif" font-weight="bold" font-size="23.1" text-anchor="start">crossover</text>
</g>
</svg>
</body></html>
